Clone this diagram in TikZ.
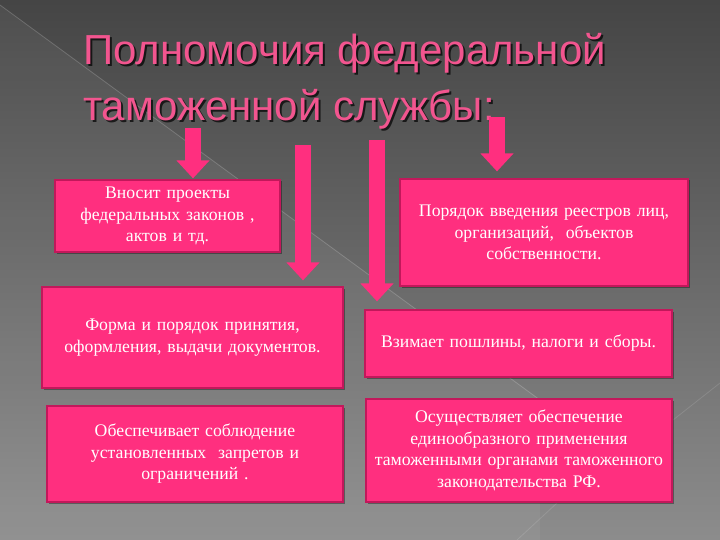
\documentclass[tikz,border=0pt]{standalone}
\usepackage{fontspec}
\setmainfont{Liberation Serif}
\newfontfamily\titlefont{Liberation Sans}
\usetikzlibrary{arrows.meta,shadows}
\definecolor{boxpink}{HTML}{FF2F7F}
\definecolor{boxedge}{HTML}{C2185B}
\definecolor{titlepink}{HTML}{F2558F}

\begin{document}
\begin{tikzpicture}[x=1pt, y=-1pt,
	box/.style 2 args={draw=boxedge, line width=1.2pt, fill=boxpink, text=white, align=center,
		inner xsep=0pt, text width=#1pt, minimum height=#2pt,
		font=\fontsize{17.7}{21.5}\selectfont,
		drop shadow={shadow xshift=1.5pt, shadow yshift=-1.5pt, fill=black, opacity=0.35}},
	bigarrow/.style={boxpink, line width=16pt, -{Triangle[width=32pt, length=18pt]}},
	title/.style={anchor=north west, align=left, inner sep=0pt,
		font=\titlefont\fontsize{42}{56}\selectfont}]
	\useasboundingbox (0,0) rectangle (720,540);
	% background
	\shade[top color=black!73, bottom color=black!45] (0,0) rectangle (720,540);
	\fill[white, opacity=0.05] (0,5) -- (540,400) -- (540,540) -- (0,540) -- cycle;
	\draw[white, opacity=0.18, line width=0.8pt] (0,5) -- (540,400);
	\draw[white, opacity=0.12, line width=0.8pt] (673,420) -- (720,383);
	\draw[white, opacity=0.12, line width=0.8pt] (517,540) -- (557,503);
	% title
	\node[title, black, opacity=0.7] at (85,35) {Полномочия федеральной\\таможенной службы:};
	\node[title, text=titlepink] (T) at (83,33) {Полномочия федеральной\\таможенной службы:};
	% boxes
	\node[box={225}{72}] (b1) at (167.5,216) {Вносит проекты\\федеральных законов ,\\актов и тд.};
	\node[box={288}{107}] (b2) at (544,232.5) {Порядок введения реестров лиц,\\организаций,\ \ объектов\\собственности.};
	\node[box={301}{101}] (b3) at (192.5,337.5) {Форма и порядок принятия,\\оформления, выдачи документов.};
	\node[box={307}{67}] (b4) at (518.5,343.5) {Взимает пошлины, налоги и сборы.};
	\node[box={296}{96}] (b5) at (195,454) {Обеспечивает соблюдение\\установленных\ \ запретов и\\ограничений .};
	\node[box={306}{103}] (b6) at (519,450.5) {Осуществляет обеспечение\\единообразного применения\\таможенными органами таможенного\\законодательства РФ.};
	% arrows
	\coordinate (s1) at (193,128);
	\coordinate (s2) at (303,145);
	\coordinate (s3) at (377,140);
	\coordinate (s4) at (497,117);
	\draw[bigarrow] (s1) -- ([yshift=1pt]s1 |- b1.north);
	\draw[bigarrow] (s2) -- ([yshift=6pt]s2 |- b3.north);
	\draw[bigarrow] (s3) -- ([yshift=8pt]s3 |- b4.north);
	\draw[bigarrow] (s4) -- ([yshift=7pt]s4 |- b2.north);
\end{tikzpicture}
\end{document}
